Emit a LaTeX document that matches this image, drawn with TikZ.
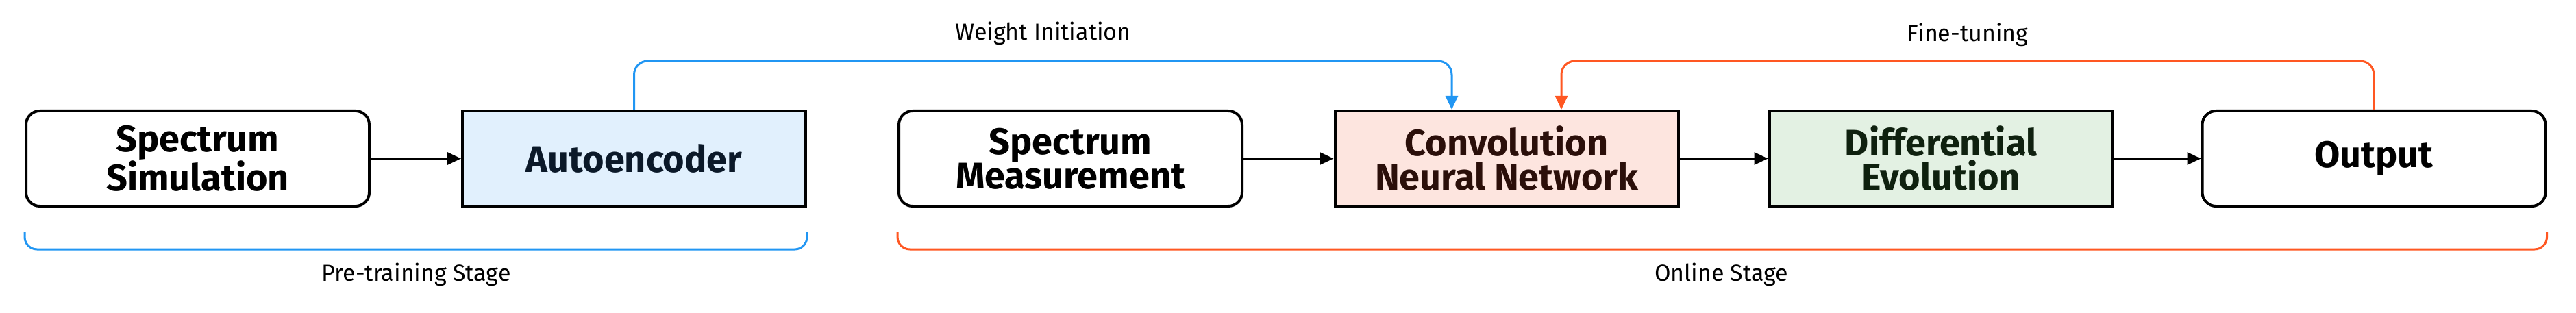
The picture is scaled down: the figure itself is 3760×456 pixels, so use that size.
\documentclass[tikz,border=0pt]{standalone}
\usepackage{fontspec}
\setmainfont{Fira Sans}
\usetikzlibrary{arrows.meta}
\definecolor{aefill}{HTML}{E1F0FD}
\definecolor{aetext}{HTML}{0B1929}
\definecolor{cnnfill}{HTML}{FDE5DF}
\definecolor{cnntext}{HTML}{2B0F0A}
\definecolor{defill}{HTML}{E3F1E3}
\definecolor{detext}{HTML}{0F210F}
\definecolor{lineblue}{HTML}{2196F3}
\definecolor{lineorange}{HTML}{FF5722}
\begin{document}
\begin{tikzpicture}[x=1pt,y=1pt,
            box/.style={draw=black, line width=4pt, minimum width=501pt, minimum height=139pt,
                inner sep=0pt, align=center, font=\fontsize{54}{50}\selectfont\bfseries},
            roundbox/.style={box, rounded corners=20pt},
            flow/.style={line width=3pt, -{Triangle[length=20pt,width=18pt]}},
            stagetext/.style={anchor=base, font=\fontsize{34}{40}\selectfont}]
            \useasboundingbox (0,0) rectangle (3760,456);
            \coordinate (top) at (0,367);

            \node[roundbox] (sim) at (288.5,224.5) {Spectrum\\Simulation};
            \node[box, fill=aefill, text=aetext] (ae) at (925.5,224.5) {Autoencoder};
            \node[roundbox] (meas) at (1562.5,224.5) {Spectrum\\Measurement};
            \node[box, fill=cnnfill, text=cnntext] (cnn) at (2199,224.5) {Convolution\\Neural Network};
            \node[box, fill=defill, text=detext] (de) at (2833,224.5) {Differential\\Evolution};
            \node[roundbox] (out) at (3465,224.5) {Output};

            \draw[flow] (sim) -- (ae);
            \draw[flow] (meas) -- (cnn);
            \draw[flow] (cnn) -- (de);
            \draw[flow] (de) -- (out);

            \coordinate (cnnin1) at ([xshift=-80pt]cnn.north);
            \coordinate (cnnin2) at ([xshift=80pt]cnn.north);
            \draw[flow, lineblue, rounded corners=20pt] (ae.north) -- (ae.north |- top) -- (cnnin1 |- top) -- (cnnin1);
            \draw[flow, lineorange, rounded corners=20pt] (out.north) -- (out.north |- top) -- (cnnin2 |- top) -- (cnnin2);

            \node[stagetext] (wlbl) at (1522.5,397) {Weight Initiation};
            \node[stagetext] (flbl) at (2872,395) {Fine-tuning};

            \draw[lineblue, line width=3pt, rounded corners=18pt] ([yshift=-36pt]sim.south west) -- ([yshift=-61pt]sim.south west)
                -- ([yshift=-61pt]ae.south east) -- ([yshift=-36pt]ae.south east);
            \draw[lineorange, line width=3pt, rounded corners=18pt] ([yshift=-36pt]meas.south west) -- ([yshift=-61pt]meas.south west)
                -- ([yshift=-61pt]out.south east) -- ([yshift=-36pt]out.south east);

            \node[stagetext] (plbl) at (607.5,46) {Pre-training Stage};
            \node[stagetext] (olbl) at (2512.5,46) {Online Stage};
        \end{tikzpicture}
\end{document}
